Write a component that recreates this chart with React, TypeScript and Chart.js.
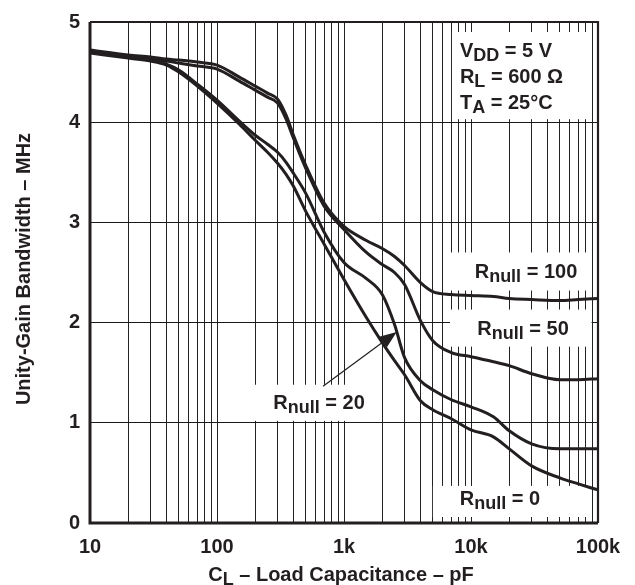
import React, { useEffect, useRef } from 'react';
import { Chart, registerables } from 'chart.js';

Chart.register(...registerables);

// ---- data ----
const capacitance = [10, 20, 30, 40, 50, 70, 100, 150, 200, 250, 300, 350, 400, 500, 700, 1000, 1500, 2000, 2500, 3000, 4000, 5000, 7000, 10000, 15000, 20000, 30000, 50000, 70000, 100000];
const rnull100 = [4.72, 4.67, 4.65, 4.63, 4.62, 4.60, 4.57, 4.45, 4.36, 4.29, 4.23, 4.07, 3.87, 3.57, 3.19, 2.96, 2.82, 2.74, 2.66, 2.57, 2.40, 2.31, 2.28, 2.27, 2.26, 2.24, 2.23, 2.22, 2.23, 2.24];
const rnull50 = [4.71, 4.66, 4.63, 4.61, 4.59, 4.56, 4.53, 4.41, 4.32, 4.25, 4.19, 4.03, 3.84, 3.54, 3.16, 2.93, 2.70, 2.58, 2.50, 2.38, 2.02, 1.82, 1.70, 1.66, 1.61, 1.57, 1.49, 1.43, 1.43, 1.44];
const rnull20 = [4.70, 4.65, 4.62, 4.58, 4.52, 4.38, 4.22, 4.01, 3.87, 3.78, 3.70, 3.60, 3.49, 3.29, 2.90, 2.60, 2.44, 2.28, 1.98, 1.65, 1.42, 1.33, 1.23, 1.16, 1.06, 0.92, 0.79, 0.74, 0.74, 0.74];
const rnull0 = [4.69, 4.64, 4.61, 4.57, 4.50, 4.36, 4.19, 3.98, 3.82, 3.70, 3.59, 3.48, 3.36, 3.11, 2.78, 2.43, 2.05, 1.80, 1.62, 1.48, 1.22, 1.13, 1.04, 0.93, 0.86, 0.74, 0.57, 0.45, 0.39, 0.33];

const xDecades = [10, 100, 1000, 10000, 100000];
const xDecadeLabels = ['10', '100', '1k', '10k', '100k'];
const yTickValues = [0, 1, 2, 3, 4, 5];

const FONT = '"Liberation Sans", Arial, Helvetica, sans-serif';
const INK = '#231f20';

type Part = { text: string; sub?: boolean };

// annotation layout (data coordinates)
const conditionBox = { x0: 7080, x1: 89000, y0: 4.03, y1: 4.90 };
const conditionAnchorX = 8180;
const conditionLines: { y: number; parts: Part[] }[] = [
  { y: 4.65, parts: [{ text: 'V' }, { text: 'DD', sub: true }, { text: ' = 5 V' }] },
  { y: 4.39, parts: [{ text: 'R' }, { text: 'L', sub: true }, { text: ' = 600 \u03A9' }] },
  { y: 4.13, parts: [{ text: 'T' }, { text: 'A', sub: true }, { text: ' = 25\u00B0C' }] },
];
const seriesLabels = [
  { value: '100', cx: 27100, y: 2.45, box: { x0: 6470, x1: 89000, y0: 2.32, y1: 2.70 } },
  { value: '50', cx: 25700, y: 1.88, box: { x0: 6840, x1: 89000, y0: 1.76, y1: 2.13 } },
  { value: '20', cx: 636, y: 1.14, box: { x0: 192, x1: 1920, y0: 1.02, y1: 1.38 } },
  { value: '0', cx: 16900, y: 0.18, box: { x0: 5010, x1: 89000, y0: 0.06, y1: 0.37 } },
];
const arrowFrom = { x: 684, y: 1.364 };
const arrowTo = { x: 2600, y: 1.907 };

function drawRich(ctx: CanvasRenderingContext2D, parts: Part[], x: number, y: number, align: 'left' | 'center') {
  const main = `bold 20px ${FONT}`;
  const sub = `bold 18px ${FONT}`;
  let total = 0;
  const widths = parts.map((p) => {
    ctx.font = p.sub ? sub : main;
    const w = ctx.measureText(p.text).width;
    total += w;
    return w;
  });
  let cx = align === 'center' ? x - total / 2 : x;
  ctx.textAlign = 'left';
  ctx.textBaseline = 'alphabetic';
  ctx.fillStyle = INK;
  parts.forEach((p, i) => {
    ctx.font = p.sub ? sub : main;
    ctx.fillText(p.text, cx, p.sub ? y + 4 : y);
    cx += widths[i];
  });
}

const annotationPlugin = {
  id: 'annotations',
  beforeDatasetsDraw(chart: any) {
    const { ctx, scales } = chart;
    const xs = scales.x;
    const ys = scales.y;
    const box = (b: { x0: number; x1: number; y0: number; y1: number }) => {
      const l = xs.getPixelForValue(b.x0);
      const r = xs.getPixelForValue(b.x1);
      const t = ys.getPixelForValue(b.y1);
      const bt = ys.getPixelForValue(b.y0);
      ctx.fillStyle = '#ffffff';
      ctx.fillRect(l, t, r - l, bt - t);
    };
    ctx.save();
    box(conditionBox);
    seriesLabels.forEach((s) => box(s.box));
    conditionLines.forEach((line) => {
      drawRich(ctx, line.parts, xs.getPixelForValue(conditionAnchorX), ys.getPixelForValue(line.y), 'left');
    });
    seriesLabels.forEach((s) => {
      drawRich(ctx, [{ text: 'R' }, { text: 'null', sub: true }, { text: ' = ' + s.value }], xs.getPixelForValue(s.cx), ys.getPixelForValue(s.y), 'center');
    });
    ctx.restore();
  },
  afterDatasetsDraw(chart: any) {
    const { ctx, scales, chartArea } = chart;
    const xs = scales.x;
    const ys = scales.y;
    ctx.save();
    // arrow
    const x1 = xs.getPixelForValue(arrowFrom.x);
    const y1 = ys.getPixelForValue(arrowFrom.y);
    const x2 = xs.getPixelForValue(arrowTo.x);
    const y2 = ys.getPixelForValue(arrowTo.y);
    const ang = Math.atan2(y2 - y1, x2 - x1);
    const headLen = 17;
    const headHalf = 6.5;
    const bx = x2 - headLen * Math.cos(ang);
    const by = y2 - headLen * Math.sin(ang);
    ctx.strokeStyle = INK;
    ctx.lineWidth = 1.2;
    ctx.beginPath();
    ctx.moveTo(x1, y1);
    ctx.lineTo(bx, by);
    ctx.stroke();
    ctx.fillStyle = INK;
    ctx.beginPath();
    ctx.moveTo(x2, y2);
    ctx.lineTo(bx + headHalf * Math.sin(ang), by - headHalf * Math.cos(ang));
    ctx.lineTo(bx - headHalf * Math.sin(ang), by + headHalf * Math.cos(ang));
    ctx.closePath();
    ctx.fill();

    // frame
    const { left, right, top, bottom } = chartArea;
    ctx.strokeStyle = INK;
    ctx.lineWidth = 3;
    ctx.beginPath();
    ctx.moveTo(left, top);
    ctx.lineTo(left, bottom);
    ctx.lineTo(right, bottom);
    ctx.stroke();
    ctx.lineWidth = 2.2;
    ctx.beginPath();
    ctx.moveTo(left, top);
    ctx.lineTo(right, top);
    ctx.lineTo(right, bottom);
    ctx.stroke();

    // axis titles
    ctx.fillStyle = INK;
    ctx.font = `bold 20px ${FONT}`;
    ctx.textAlign = 'center';
    ctx.textBaseline = 'alphabetic';
    ctx.save();
    ctx.translate(30, 269);
    ctx.rotate(-Math.PI / 2);
    ctx.fillText('Unity-Gain Bandwidth \u2013 MHz', 0, 0);
    ctx.restore();
    drawRich(ctx, [{ text: 'C' }, { text: 'L', sub: true }, { text: ' \u2013 Load Capacitance \u2013 pF' }], (left + right) / 2 - 3, 581, 'center');
    ctx.restore();
  },
};

export default function App() {
  const canvasRef = useRef<HTMLCanvasElement | null>(null);

  useEffect(() => {
    const canvas = canvasRef.current;
    if (!canvas) return;
    const series = [rnull100, rnull50, rnull20, rnull0];
    const gridValues: number[] = [];
    for (let i = 0; i < xDecades.length - 1; i++) {
      for (let m = 1; m <= 9; m++) gridValues.push(xDecades[i] * m);
    }
    gridValues.push(xDecades[xDecades.length - 1]);

    const chart = new Chart(canvas, {
      type: 'line',
      data: {
        datasets: series.map((vals, si) => ({
          label: 'R' + si,
          data: capacitance.map((c, i) => ({ x: c, y: vals[i] })),
          borderColor: INK,
          borderWidth: 3,
          pointRadius: 0,
          fill: false,
          cubicInterpolationMode: 'monotone' as const,
        })),
      },
      options: {
        responsive: false,
        animation: false,
        events: [],
        layout: { padding: { left: 0, top: 17, right: 37, bottom: 0 } },
        plugins: { legend: { display: false }, tooltip: { enabled: false }, title: { display: false } },
        scales: {
          x: {
            type: 'logarithmic',
            min: 10,
            max: 100000,
            afterFit: (s: any) => { s.height = 62; },
            afterBuildTicks: (s: any) => {
              s.ticks = gridValues.map((v) => ({ value: v, major: xDecades.includes(v) }));
            },
            grid: { color: '#222', lineWidth: 1, drawTicks: false },
            border: { display: false },
            ticks: {
              autoSkip: false,
              maxRotation: 0,
              minRotation: 0,
              padding: 12,
              color: INK,
              font: { family: FONT, size: 20, weight: 'bold' },
              callback: (v: any) => {
                const idx = xDecades.indexOf(Number(v));
                return idx >= 0 ? xDecadeLabels[idx] : '';
              },
            },
          },
          y: {
            type: 'linear',
            min: 0,
            max: 5,
            afterFit: (s: any) => { s.width = 90; },
            afterBuildTicks: (s: any) => {
              s.ticks = yTickValues.map((v) => ({ value: v }));
            },
            grid: { color: '#1a1a1a', lineWidth: 1, drawTicks: false },
            border: { display: false },
            ticks: {
              padding: 10,
              color: INK,
              font: { family: FONT, size: 20, weight: 'bold' },
              callback: (v: any) => String(v),
            },
          },
        },
      } as any,
      plugins: [annotationPlugin],
    });
    return () => chart.destroy();
  }, []);

  return (
    <div style={{ position: 'absolute', left: 0, top: 0, width: 635, height: 585, background: '#fff' }}>
      <canvas ref={canvasRef} width={635} height={585} style={{ display: 'block' }} />
    </div>
  );
}
